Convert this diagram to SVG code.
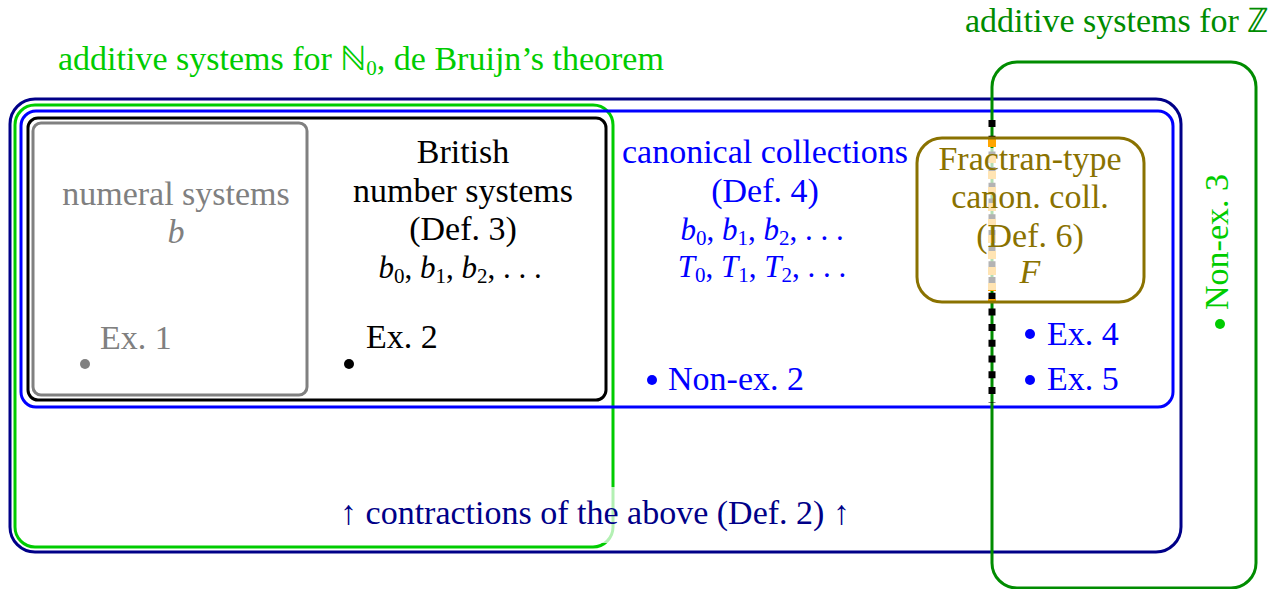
<svg xmlns="http://www.w3.org/2000/svg" width="1279" height="589" viewBox="0 0 1279 589">
<style>
text{font-family:"Liberation Serif","Times New Roman",serif;font-size:34px}
.m{font-size:31px}
.c{text-anchor:middle}
.i{font-style:italic}
.s{font-size:21px;font-style:normal}
.box{fill:none;stroke-width:3}
</style>
<rect width="1279" height="589" fill="#fff"/>
<g id="contractions">
<rect class="box" x="10" y="99" width="1171" height="453" rx="25" stroke="#000088"/>
</g>
<g id="additive-N0">
<rect class="box" x="15" y="105" width="598" height="442" rx="20" stroke="#00cc00"/>
</g>
<g id="canonical">
<rect class="box" x="21" y="111" width="1152" height="296" rx="15" stroke="#0000ff"/>
</g>
<g id="british">
<rect class="box" x="28" y="118" width="578" height="282" rx="10" stroke="#000"/>
</g>
<g id="numeral">
<rect class="box" x="33" y="123" width="274" height="272" rx="8" stroke="#808080"/>
</g>
<g id="additive-Z">
<rect class="box" x="992" y="62" width="264" height="526" rx="25" stroke="#008c00"/>
</g>
<g id="connectors">
<line x1="992" y1="120" x2="992" y2="403" stroke="#000" stroke-width="7" stroke-dasharray="7 8.7"/>
<line x1="992" y1="139" x2="992" y2="302" stroke="#ffa500" stroke-width="8" stroke-dasharray="8 8"/>
</g>
<g id="fractran">
<rect x="984" y="148" width="17" height="142" fill="#fff" opacity="0.7"/>
<rect class="box" x="917" y="138" width="227" height="164" rx="25" stroke="#8a7200"/>
<g fill="#8a7200">
<text class="c" x="1030" y="170">Fractran-type</text>
<text class="c" x="1030" y="208">canon. coll.</text>
<text class="c" x="1030" y="247">(Def. 6)</text>
<text class="c i" x="1030" y="283">F</text>
</g>
</g>
<g id="label-contractions">
<rect x="330" y="487" width="530" height="56" fill="#fff" opacity="0.7"/>
<text class="c" x="595" y="524" fill="#000088">↑ contractions of the above (Def. 2) ↑</text>
</g>
<g id="label-N0">
<text x="58" y="70" fill="#00cc00">additive systems for ℕ<tspan class="s" dy="5">0</tspan><tspan dy="-5">, de Bruijn’s theorem</tspan></text>
</g>
<g id="label-Z">
<text x="965" y="32" fill="#008c00">additive systems for ℤ</text>
</g>
<g id="numeral-text" fill="#808080">
<text class="c" x="176" y="205">numeral systems</text>
<text class="c i" x="176" y="243">b</text>
<text x="100" y="349">Ex. 1</text>
<circle cx="85" cy="364" r="5"/>
</g>
<g id="british-text" fill="#000">
<text class="c" x="463" y="163">British</text>
<text class="c" x="463" y="202">number systems</text>
<text class="c" x="463" y="240">(Def. 3)</text>
<text class="c m" x="460" y="278"><tspan class="i">b</tspan><tspan class="s" dy="5">0</tspan><tspan dy="-5">, </tspan><tspan class="i">b</tspan><tspan class="s" dy="5">1</tspan><tspan dy="-5">, </tspan><tspan class="i">b</tspan><tspan class="s" dy="5">2</tspan><tspan dy="-5">, . . .</tspan></text>
<text x="366" y="348">Ex. 2</text>
<circle cx="349" cy="364" r="5"/>
</g>
<g id="canonical-text" fill="#0000ff">
<text class="c" x="765" y="163">canonical collections</text>
<text class="c" x="765" y="202">(Def. 4)</text>
<text class="c m" x="762" y="240"><tspan class="i">b</tspan><tspan class="s" dy="5">0</tspan><tspan dy="-5">, </tspan><tspan class="i">b</tspan><tspan class="s" dy="5">1</tspan><tspan dy="-5">, </tspan><tspan class="i">b</tspan><tspan class="s" dy="5">2</tspan><tspan dy="-5">, . . .</tspan></text>
<text class="c m" x="762" y="277"><tspan class="i">T</tspan><tspan class="s" dy="5">0</tspan><tspan dy="-5">, </tspan><tspan class="i">T</tspan><tspan class="s" dy="5">1</tspan><tspan dy="-5">, </tspan><tspan class="i">T</tspan><tspan class="s" dy="5">2</tspan><tspan dy="-5">, . . .</tspan></text>
<circle cx="652" cy="380" r="5"/>
<text x="668" y="390">Non-ex. 2</text>
<circle cx="1030" cy="334" r="5"/>
<text x="1047" y="345">Ex. 4</text>
<circle cx="1030" cy="380" r="5"/>
<text x="1047" y="390">Ex. 5</text>
</g>
<g id="nonex3" fill="#00cc00">
<circle cx="1220" cy="324" r="5"/>
<text x="0" y="0" transform="translate(1228 310) rotate(-90)">Non-ex. 3</text>
</g>
</svg>
